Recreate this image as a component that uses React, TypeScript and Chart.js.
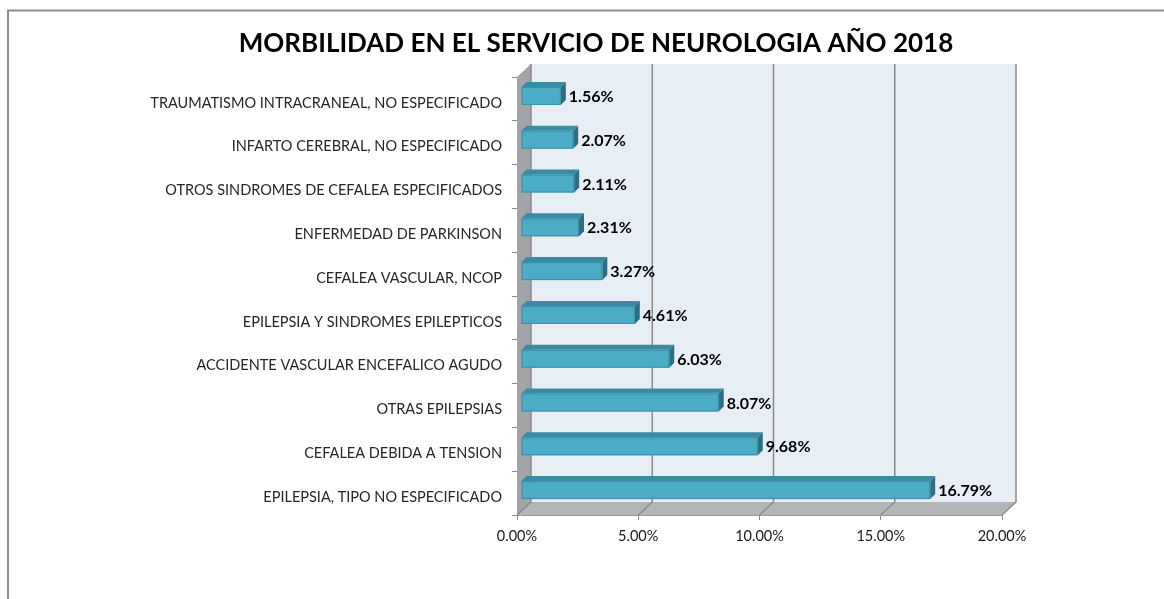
import React, { useEffect, useRef } from "react";
import { Chart, registerables } from "chart.js";

Chart.register(...registerables);

const TITLE = "MORBILIDAD EN EL SERVICIO DE NEUROLOGIA AÑO 2018";

const categories = [
  "TRAUMATISMO INTRACRANEAL, NO ESPECIFICADO",
  "INFARTO CEREBRAL, NO ESPECIFICADO",
  "OTROS SINDROMES DE CEFALEA ESPECIFICADOS",
  "ENFERMEDAD DE PARKINSON",
  "CEFALEA VASCULAR, NCOP",
  "EPILEPSIA Y SINDROMES EPILEPTICOS",
  "ACCIDENTE VASCULAR ENCEFALICO AGUDO",
  "OTRAS EPILEPSIAS",
  "CEFALEA DEBIDA A TENSION",
  "EPILEPSIA, TIPO NO ESPECIFICADO",
];

const percentages = [1.56, 2.07, 2.11, 2.31, 3.27, 4.61, 6.03, 8.07, 9.68, 16.79];

const axisMin = 0;
const axisMax = 20;
const axisStep = 5;

const FONT = "Lato, 'Open Sans', 'DejaVu Sans', sans-serif";

const WALL_DX = 14;
const WALL_DY = 13;
const BAR_OX = 4;
const BAR_OY = -3;
const BAR_DEPTH_X = 5;
const BAR_DEPTH_Y = 5;

const fmt = (v: number) => v.toFixed(2) + "%";

const chart3dPlugin = {
  id: "chart3d",
  beforeDraw(chart: any) {
    const ctx = chart.ctx;
    ctx.save();
    ctx.fillStyle = "#ffffff";
    ctx.fillRect(0, 0, chart.width, chart.height);
    ctx.strokeStyle = "#8e8e8e";
    ctx.lineWidth = 2;
    ctx.strokeRect(8, 10.5, 1300, 800);
    ctx.fillStyle = "#000000";
    ctx.font = "bold 26px " + FONT;
    ctx.textAlign = "center";
    ctx.textBaseline = "middle";
    ctx.fillText(TITLE, 596, 44);
    ctx.restore();
  },
  beforeDatasetsDraw(chart: any) {
    const ctx = chart.ctx;
    const xs = chart.scales.x;
    const ys = chart.scales.y;
    const L = xs.left;
    const R = xs.right;
    const T = ys.top;
    const B = ys.bottom;
    ctx.save();
    // back wall
    ctx.fillStyle = "#e8eef6";
    ctx.fillRect(L + WALL_DX, T - WALL_DY, R - L, B - T);
    // side wall
    ctx.fillStyle = "#a3a4a7";
    ctx.beginPath();
    ctx.moveTo(L, T);
    ctx.lineTo(L + WALL_DX, T - WALL_DY);
    ctx.lineTo(L + WALL_DX, B - WALL_DY);
    ctx.lineTo(L, B);
    ctx.closePath();
    ctx.fill();
    // floor
    ctx.fillStyle = "#b3b6b9";
    ctx.beginPath();
    ctx.moveTo(L, B);
    ctx.lineTo(L + WALL_DX, B - WALL_DY);
    ctx.lineTo(R + WALL_DX, B - WALL_DY);
    ctx.lineTo(R, B);
    ctx.closePath();
    ctx.fill();
    // grid lines on back wall and floor
    ctx.strokeStyle = "#8a8a8a";
    ctx.lineWidth = 1.5;
    for (let v = axisMin; v <= axisMax; v += axisStep) {
      const px = xs.getPixelForValue(v);
      ctx.beginPath();
      ctx.moveTo(px + WALL_DX, T - WALL_DY);
      ctx.lineTo(px + WALL_DX, B - WALL_DY);
      ctx.lineTo(px, B);
      ctx.stroke();
    }
    // front floor edge
    ctx.strokeStyle = "#999999";
    ctx.lineWidth = 1;
    ctx.beginPath();
    ctx.moveTo(L, B + 0.5);
    ctx.lineTo(R, B + 0.5);
    ctx.stroke();
    ctx.restore();
  },
  afterDatasetsDraw(chart: any) {
    const ctx = chart.ctx;
    const meta = chart.getDatasetMeta(0);
    const data = chart.data.datasets[0].data;
    ctx.save();
    meta.data.forEach((bar: any, i: number) => {
      const { x, y, base, height } = bar.getProps(["x", "y", "base", "height"], true);
      const x0 = base + BAR_OX;
      const x1 = x + BAR_OX + 2;
      const yT = y + BAR_OY - height / 2;
      const yB = y + BAR_OY + height / 2;
      // top face
      ctx.fillStyle = "#3a8ca2";
      ctx.beginPath();
      ctx.moveTo(x0, yT);
      ctx.lineTo(x0 + BAR_DEPTH_X, yT - BAR_DEPTH_Y);
      ctx.lineTo(x1 + BAR_DEPTH_X, yT - BAR_DEPTH_Y);
      ctx.lineTo(x1, yT);
      ctx.closePath();
      ctx.fill();
      // side face
      ctx.fillStyle = "#2d6f82";
      ctx.beginPath();
      ctx.moveTo(x1, yT);
      ctx.lineTo(x1 + BAR_DEPTH_X, yT - BAR_DEPTH_Y);
      ctx.lineTo(x1 + BAR_DEPTH_X, yB - BAR_DEPTH_Y);
      ctx.lineTo(x1, yB);
      ctx.closePath();
      ctx.fill();
      // front face
      ctx.fillStyle = "#4bacc6";
      ctx.fillRect(x0, yT, x1 - x0, yB - yT);
      ctx.strokeStyle = "#3b8da3";
      ctx.lineWidth = 1;
      ctx.strokeRect(x0 + 0.5, yT + 0.5, x1 - x0 - 1, yB - yT - 1);
      // value label
      ctx.fillStyle = "#000000";
      ctx.font = "bold 16px " + FONT;
      ctx.textAlign = "left";
      ctx.textBaseline = "middle";
      ctx.fillText(fmt(data[i] as number), x1 + BAR_DEPTH_X + 3, (yT + yB) / 2 + 1);
    });
    ctx.restore();
  },
};

export default function App() {
  const ref = useRef<HTMLCanvasElement | null>(null);
  useEffect(() => {
    if (!ref.current) return;
    const chart = new Chart(ref.current, {
      type: "bar",
      data: {
        labels: categories,
        datasets: [
          {
            data: percentages,
            backgroundColor: "rgba(0,0,0,0)",
            borderWidth: 0,
            categoryPercentage: 1,
            barPercentage: 0.41,
          },
        ],
      },
      options: {
        indexAxis: "y",
        responsive: false,
        animation: false,
        devicePixelRatio: 1,
        layout: { padding: { top: 77, right: 162, left: 0, bottom: 0 } },
        plugins: {
          legend: { display: false },
          title: { display: false },
          tooltip: { enabled: false },
        },
        scales: {
          x: {
            type: "linear",
            min: axisMin,
            max: axisMax,
            ticks: {
              stepSize: axisStep,
              callback: (v: any) => fmt(Number(v)),
              color: "#1a1a1a",
              font: { family: FONT, size: 14.5 },
              padding: 8,
              maxRotation: 0,
            },
            grid: {
              display: true,
              drawOnChartArea: false,
              drawTicks: true,
              tickLength: 5,
              color: "#8a8a8a",
            },
            border: { display: false },
            afterFit: (s: any) => {
              s.height = 84;
            },
          },
          y: {
            type: "category",
            ticks: {
              color: "#262626",
              font: { family: FONT, size: 14.5 },
              padding: 10,
              labelOffset: 4,
              autoSkip: false,
            },
            grid: {
              display: true,
              drawOnChartArea: false,
              drawTicks: true,
              tickLength: 5,
              offset: true,
              color: "#8a8a8a",
            },
            border: { display: false },
            afterFit: (s: any) => {
              s.width = 517;
            },
          },
        },
      },
      plugins: [chart3dPlugin],
    } as any);
    return () => chart.destroy();
  }, []);
  return (
    <div style={{ position: "fixed", left: 0, top: 0, width: 1164, height: 599, overflow: "hidden", background: "#fff" }}>
      <canvas ref={ref} width={1164} height={599} style={{ display: "block" }} />
    </div>
  );
}
